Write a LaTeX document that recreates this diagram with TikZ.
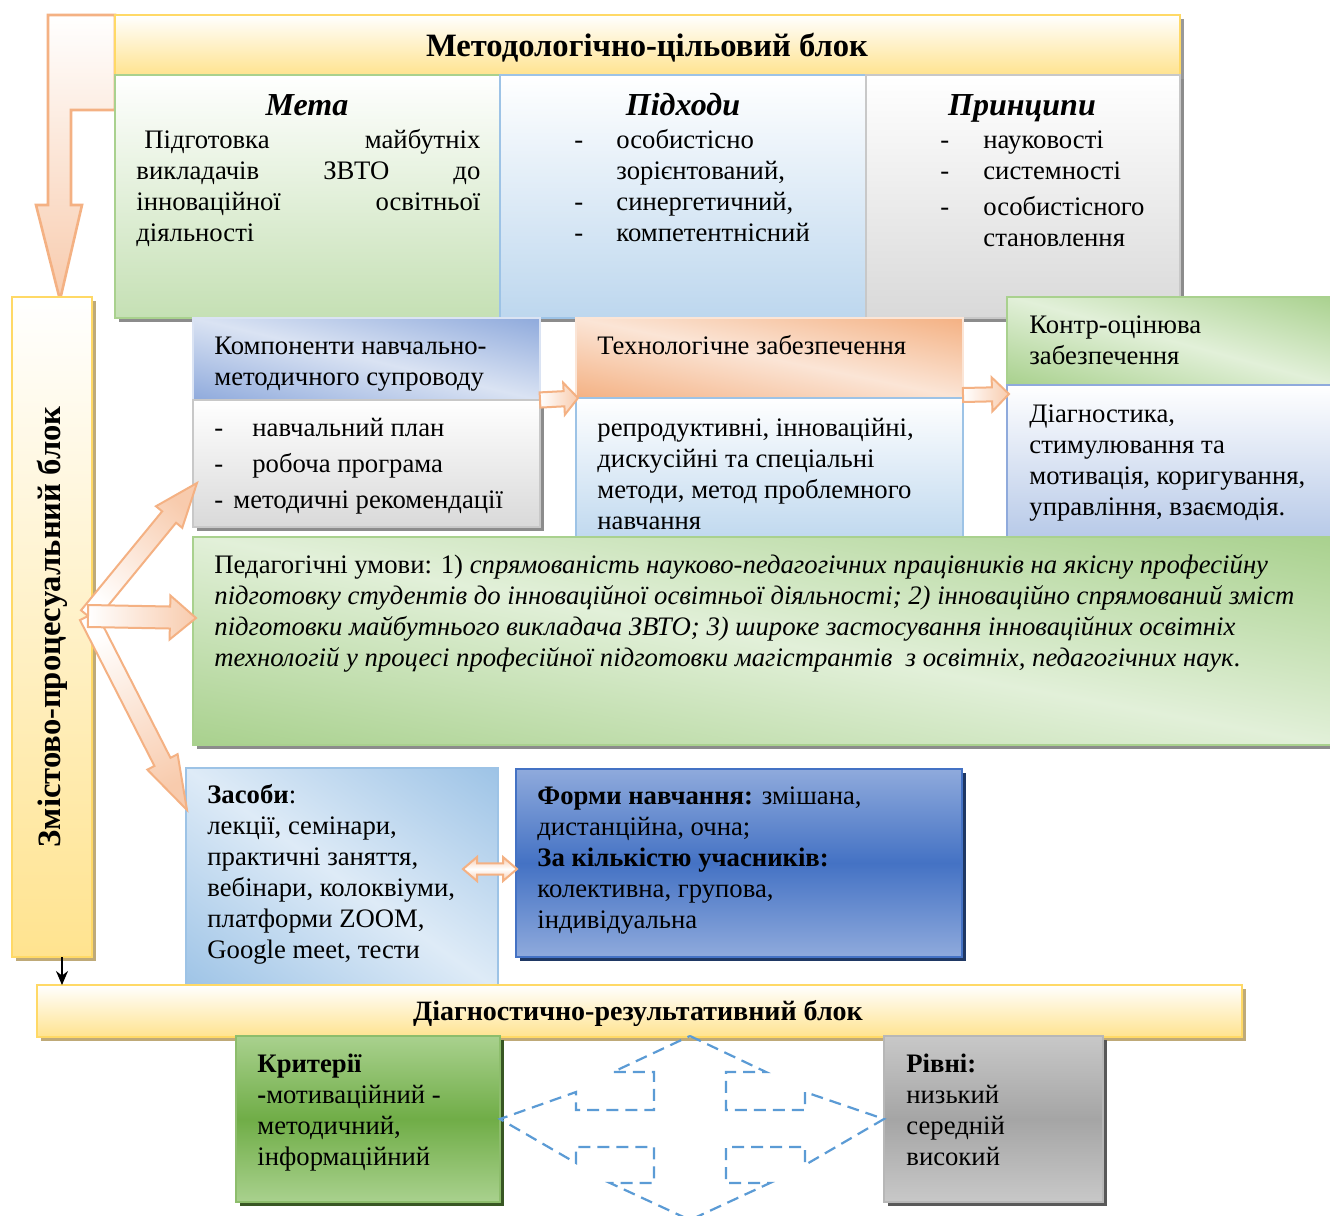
\documentclass[tikz,border=0pt]{standalone}
\usepackage{fontspec}
\setmainfont{Liberation Serif}
\usetikzlibrary{calc,shadows,arrows.meta}

\definecolor{yelB}{HTML}{FFD966}
\definecolor{yelF}{HTML}{FFE38F}
\definecolor{grnB}{HTML}{A9D18E}
\definecolor{grnF}{HTML}{C5E0B4}
\definecolor{grnL}{HTML}{E2F0D9}
\definecolor{grnD}{HTML}{70AD47}
\definecolor{bluB}{HTML}{9DC3E6}
\definecolor{bluF}{HTML}{BDD7EE}
\definecolor{bluL}{HTML}{DEEBF7}
\definecolor{bl2B}{HTML}{8FAADC}
\definecolor{bl2F}{HTML}{B4C7E7}
\definecolor{bl2L}{HTML}{DAE3F3}
\definecolor{bl3}{HTML}{4472C4}
\definecolor{navy}{HTML}{1F3864}
\definecolor{gryB}{HTML}{C8C8C8}
\definecolor{gryF}{HTML}{D9D9D9}
\definecolor{gryM}{HTML}{A5A5A5}
\definecolor{gryD}{HTML}{595959}
\definecolor{orgB}{HTML}{F4B183}
\definecolor{orgF}{HTML}{F8CBAD}
\definecolor{orgL}{HTML}{FBE5D6}
\definecolor{khaki}{HTML}{BFAA78}
\definecolor{dgrn}{HTML}{385723}
\definecolor{dashblue}{HTML}{5B9BD5}

\newcommand\bx[6]{\node[#6, anchor=north west, inner sep=0pt, outer sep=0pt,
  minimum width={(#4-#2)*0.5pt}, minimum height={(#5-#3)*0.5pt}] (#1) at (#2,#3) {};}

% diagonal dark-light-dark shading inside a box node
\newcommand\dshade[6]{%
  \begin{scope}
    \clip (#1.north west) rectangle (#1.south east);
    \shade[transform canvas={shift={(#1.center)}, rotate=#2}, top color=#4, bottom color=#4, middle color=#5]
      (-400pt,-#3) rectangle (400pt,#3);
  \end{scope}
  \draw[#6, line width=1pt] (#1.north west) rectangle (#1.south east);}

% single-headed block arrow: style, start, end, shaft hw, head hw, head length
\newcommand\barrow[6]{%
  \coordinate (tmpH) at ($(#3)!#6!(#2)$);
  \path[#1] ($(#2)!#4!90:(#3)$) -- ($(tmpH)!#4!-90:(#2)$) -- ($(tmpH)!#5!-90:(#2)$)
    -- (#3) -- ($(tmpH)!#5!90:(#2)$) -- ($(tmpH)!#4!90:(#2)$) -- ($(#2)!#4!-90:(#3)$) -- cycle;}

% double-headed block arrow
\newcommand\dbarrow[6]{%
  \coordinate (tA) at ($(#2)!#6!(#3)$);
  \coordinate (tB) at ($(#3)!#6!(#2)$);
  \path[#1] (#2) -- ($(tA)!#5!90:(#3)$) -- ($(tA)!#4!90:(#3)$) -- ($(tB)!#4!-90:(#2)$)
    -- ($(tB)!#5!-90:(#2)$) -- (#3) -- ($(tB)!#5!90:(#2)$) -- ($(tB)!#4!90:(#2)$)
    -- ($(tA)!#4!-90:(#3)$) -- ($(tA)!#5!-90:(#3)$) -- cycle;}

\begin{document}
\begin{tikzpicture}[x=0.5pt,y=-0.5pt,
  bt/.style={font=\fontsize{13.35}{15.5}\selectfont, inner sep=0pt, anchor=base west, align=left},
  tt/.style={font=\fontsize{16.3}{19}\selectfont\bfseries, inner sep=0pt},
  st/.style={font=\fontsize{16}{19}\selectfont\bfseries\itshape, inner sep=0pt, anchor=base},
  shd/.style={drop shadow={shadow xshift=2pt, shadow yshift=-2pt, fill=#1, opacity=1}},
  shd/.default={black!45},
  yelbox/.style={draw=yelB, line width=1pt, top color=white, bottom color=yelF},
  barr/.style={draw=orgB, line width=1pt, top color=orgF, bottom color=white, shading angle=#1},
  dbarr/.style={draw=orgB, line width=1pt, top color=orgF, bottom color=orgF, middle color=white},
]
\useasboundingbox (0,0) rectangle (1330,1216);
\fill[white] (0,0) rectangle (1330,1216);

% bent arrow (top-left)
\path[draw=orgB, line width=1.3pt, top color=white, bottom color=orgF]
  (48,15) -- (115,15) -- (115,110) -- (71,110) -- (71,205) -- (82,205) -- (60,300)
  -- (36,205) -- (48,205) -- cycle;

% ---------- methodological block ----------
\bx{hdr}{115}{15}{1180}{75}{yelbox, shd=black!40}
\node[tt, anchor=base] (hdrT) at (647,56) {Методологічно-цільовий блок};

\bx{meta}{115}{75}{500}{318}{draw=grnB, line width=1pt, top color=white, bottom color=grnF, shd}
\bx{pidh}{500}{75}{866}{318}{draw=bluB, line width=1pt, top color=white, bottom color=bluF, shd}
\bx{princ}{866}{75}{1180}{318}{draw=gryB, line width=1pt, top color=white, bottom color=gryF, shd}

\node[st] (metaT) at (307,115) {Мета};
\node[st] (pidhT) at (683,115) {Підходи};
\node[st] (princT) at (1022,115) {Принципи};

\node[bt] (metaX) at (136,241) {%
  \hbox to 172pt{\hspace{4pt}Підготовка\hfill майбутніх}\\
  \hbox to 172pt{викладачів\hfill ЗВТО\hfill до}\\
  \hbox to 172pt{інноваційної\hfill освітньої}\\
  діяльності};
\node[bt] (pidhX) at (574,241) {%
  \makebox[21pt][l]{-}особистісно\\
  \makebox[21pt][l]{}зорієнтований,\\
  \makebox[21pt][l]{-}синергетичний,\\
  \makebox[21pt][l]{-}компетентнісний};
\node[bt] (princX) at (940,246) {%
  \makebox[21.5pt][l]{-}науковості\\
  \makebox[21.5pt][l]{-}системності\\[2.5pt]
  \makebox[21.5pt][l]{-}особистісного\\
  \makebox[21.5pt][l]{}становлення};

% ---------- left vertical block ----------
\bx{zmist}{12}{297}{92}{957}{yelbox, shd=khaki}
\node[tt, rotate=90] (zmistT) at (52,627) {Змістово-процесуальний блок};

% ---------- components ----------
\bx{kompH}{193}{318}{540}{400}{fill=bl2L}
\dshade{kompH}{-13.3}{39.9pt}{bl2B}{bl2L}{draw=bl2L}
\bx{kompB}{193}{400}{540}{527}{draw=gryB, line width=1pt, top color=white, bottom color=gryF, shd}
\node[bt] (kompHT) at (214,385) {Компоненти навчально-\\методичного супроводу};
\node[bt] (kompBT) at (214,508) {%
  \makebox[19pt][l]{-}навчальний план\\[2.5pt]
  \makebox[19pt][l]{-}робоча програма\\[2.5pt]
  \makebox[9.5pt][l]{-}методичні рекомендації};

\bx{techH}{576}{318}{963}{398}{fill=orgL}
\dshade{techH}{-11.7}{39.2pt}{orgB}{orgL}{draw=orgL}
\bx{techB}{576}{398}{963}{545}{draw=bluB, line width=1pt, top color=white, bottom color=bluF}
\node[bt] (techHT) at (597,354) {Технологічне забезпечення};
\node[bt] (techBT) at (597,529) {репродуктивні, інноваційні,\\дискусійні та спеціальні\\методи, метод проблемного\\навчання};

\bx{kontrH}{1007}{297}{1340}{385}{fill=grnL, shd}
\dshade{kontrH}{-15.2}{42.5pt}{grnB}{grnL}{draw=grnB}
\bx{kontrB}{1007}{385}{1340}{545}{draw=bl2B, line width=1pt, top color=white, bottom color=bl2F}
\node[bt] (kontrHT) at (1029,364) {Контр-оцінюва\\забезпечення};
\node[bt] (kontrBT) at (1029,515) {Діагностика,\\стимулювання та\\мотивація, коригування,\\управління, взаємодія.};

% ---------- pedagogical conditions ----------
\bx{ped}{193}{537}{1340}{745}{fill=grnL, shd}
\dshade{ped}{-10.4}{102.3pt}{grnB}{grnL}{draw=grnB}
\node[bt] (pedT) at (214,666) {Педагогічні умови: 1) \textit{спрямованість науково-педагогічних працівників на якісну професійну}\\
\textit{підготовку студентів до інноваційної освітньої діяльності; 2) інноваційно спрямований зміст}\\
\textit{підготовки майбутнього викладача ЗВТО; 3) широке застосування інноваційних освітніх}\\
\textit{технологій у процесі професійної підготовки магістрантів\ \ з освітніх, педагогічних наук}.};

% ---------- means & forms ----------
\bx{zas}{186}{768}{498}{990}{fill=bluL}
\dshade{zas}{-35.4}{90.5pt}{bluB}{bluL}{draw=bluB}
\node[bt] (zasT) at (207,958) {\textbf{Засоби}:\\лекції, семінари,\\практичні заняття,\\вебінари, колоквіуми,\\платформи ZOOM,\\Google meet, тести};

\bx{form}{516}{769}{962}{957}{draw=bl3, line width=1pt, top color=bl2B, bottom color=bl2B, middle color=bl3, shd=navy}
\node[bt] (formT) at (537,928) {\textbf{Форми навчання:} змішана,\\дистанційна, очна;\\\textbf{За кількістю учасників:}\\колективна, групова,\\індивідуальна};

% ---------- arrows ----------
\coordinate (o1) at (88,616);
\coordinate (eA) at (197,483);
\coordinate (eB) at (196,618);
\coordinate (eC) at (187,810);
\barrow{barr=-42}{o1}{eA}{4.5pt}{8.5pt}{22pt}
\barrow{barr=-153}{o1}{eC}{4.5pt}{8.5pt}{27pt}
\barrow{barr=-90}{o1}{eB}{5.5pt}{11pt}{13pt}

\coordinate (kt1) at (kompB.north east);
\coordinate (kt2) at ($(techB.north west)+(2,0)$);
\barrow{barr=-90}{kt1}{kt2}{3.8pt}{8pt}{7pt}
\coordinate (tk1) at ($(techH.south east)+(0,-3)$);
\coordinate (tk2) at ($(kontrB.north west)+(2,9)$);
\barrow{barr=-90}{tk1}{tk2}{3.5pt}{8.5pt}{8.5pt}

\coordinate (zf1) at (463,869);
\coordinate (zf2) at (517,869);
\dbarrow{dbarr}{zf1}{zf2}{2.8pt}{6pt}{7pt}

% ---------- diagnostic block ----------
\bx{diag}{37}{985}{1242}{1037}{yelbox, shd=khaki}
\node[font=\fontsize{14}{17}\selectfont\bfseries, inner sep=0pt, anchor=base] (diagT) at (638,1020) {Діагностично-результативний блок};
\coordinate (zb) at (62,957);
\coordinate (db) at (62,985);
\draw[-{Stealth[length=7pt,width=6pt]}, line width=0.8pt] (zb) -- (db);

\bx{krit}{236}{1036}{500}{1202}{draw=grnD!80!white, line width=1pt, top color=grnB, bottom color=grnB, middle color=grnD, shd=dgrn}
\node[bt] (kritT) at (257,1165) {\textbf{Критерії}\\\textbf{-}мотиваційний -\\методичний,\\інформаційний};

\bx{rivni}{884}{1036}{1103}{1202}{draw=gryM!80!white, line width=1pt, top color=gryB, bottom color=gryB, middle color=gryM, shd=gryD}
\node[bt] (rivniT) at (906,1165) {\textbf{Рівні:}\\низький\\середній\\високий};

% dashed four-way arrow
\draw[dashblue, line width=1.1pt, dash pattern=on 6pt off 3.5pt]
  (690,1036) -- (766,1072) -- (726,1072) -- (726,1110) -- (805,1110) -- (805,1092)
  -- (rivni.west) -- (805,1165) -- (805,1147) -- (726,1147) -- (726,1183) -- (770,1183)
  -- (690,1220) -- (610,1183) -- (654,1183) -- (654,1147) -- (576,1147) -- (576,1163)
  -- (krit.east) -- (576,1092) -- (576,1110) -- (654,1110) -- (654,1072) -- (613,1072) -- cycle;
\end{tikzpicture}
\end{document}
